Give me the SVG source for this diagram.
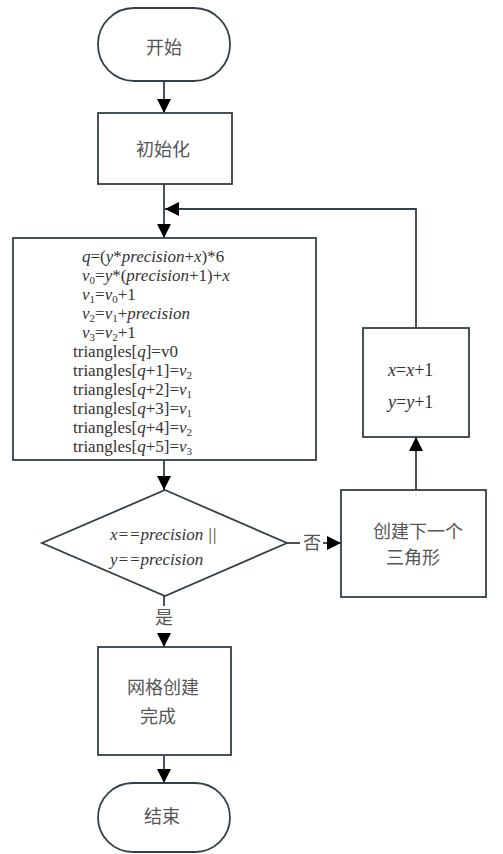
<svg xmlns="http://www.w3.org/2000/svg" width="503" height="854" viewBox="0 0 503 854">
<style>
.s{fill:#fff;stroke:#334046;stroke-width:1.8}
.c{stroke:#334046;stroke-width:1.8;fill:none}
.zh{font-family:'Noto Sans CJK SC','Noto Sans',sans-serif;font-size:18px;fill:#555;text-anchor:middle}
.m{font-family:'Liberation Serif','DejaVu Serif',serif;font-size:17px;fill:#333}
.i{font-style:italic}
.sub{font-size:11px}
</style>
<defs>
<marker id="ah" markerUnits="userSpaceOnUse" markerWidth="16" markerHeight="16" viewBox="0 0 16 16" refX="14" refY="8" orient="auto">
<path d="M0,1 L14,8 L0,15 Z" fill="#000"/>
</marker>
</defs>
<rect width="503" height="854" fill="#fff"/>
<g id="connectors">
<line class="c" x1="164" y1="81" x2="164" y2="113" marker-end="url(#ah)"/>
<line class="c" x1="164" y1="184" x2="164" y2="238" marker-end="url(#ah)"/>
<polyline class="c" points="416,328 416,209 165,209" marker-end="url(#ah)"/>
<line class="c" x1="164" y1="460" x2="164" y2="490" marker-end="url(#ah)"/>
<line class="c" x1="287" y1="543" x2="300" y2="543"/>
<line class="c" x1="323" y1="543" x2="341" y2="543" marker-end="url(#ah)"/>
<line class="c" x1="416" y1="490" x2="416" y2="437" marker-end="url(#ah)"/>
<line class="c" x1="164" y1="596" x2="164" y2="606"/>
<line class="c" x1="164" y1="633" x2="164" y2="647" marker-end="url(#ah)"/>
<line class="c" x1="164" y1="755" x2="164" y2="783" marker-end="url(#ah)"/>
<text class="zh" x="312" y="549">否</text>
<text class="zh" x="164" y="624">是</text>
</g>
<g id="start">
<rect class="s" x="98" y="8" width="132" height="73" rx="36" ry="36"/>
<text class="zh" x="164" y="54">开始</text>
</g>
<g id="init">
<rect class="s" x="98" y="113" width="134" height="71"/>
<text class="zh" x="163" y="156">初始化</text>
</g>
<g id="compute" font-family="'Liberation Serif', 'DejaVu Serif', serif">
<rect class="s" x="13" y="238" width="303" height="222"/>
<text class="m" x="82" y="262"><tspan class="i">q</tspan>=(<tspan class="i">y</tspan>*<tspan class="i">precision</tspan>+<tspan class="i">x</tspan>)*6</text>
<text class="m" x="82" y="281"><tspan class="i">v</tspan><tspan class="sub" dy="3">0</tspan><tspan dy="-3">=</tspan><tspan class="i">y</tspan>*(<tspan class="i">precision</tspan>+1)+<tspan class="i">x</tspan></text>
<text class="m" x="82" y="300"><tspan class="i">v</tspan><tspan class="sub" dy="3">1</tspan><tspan dy="-3">=</tspan><tspan class="i">v</tspan><tspan class="sub" dy="3">0</tspan><tspan dy="-3">+1</tspan></text>
<text class="m" x="82" y="319"><tspan class="i">v</tspan><tspan class="sub" dy="3">2</tspan><tspan dy="-3">=</tspan><tspan class="i">v</tspan><tspan class="sub" dy="3">1</tspan><tspan dy="-3">+</tspan><tspan class="i">precision</tspan></text>
<text class="m" x="82" y="338"><tspan class="i">v</tspan><tspan class="sub" dy="3">3</tspan><tspan dy="-3">=</tspan><tspan class="i">v</tspan><tspan class="sub" dy="3">2</tspan><tspan dy="-3">+1</tspan></text>
<text class="m" x="73" y="357">triangles[<tspan class="i">q</tspan>]=v0</text>
<text class="m" x="73" y="376">triangles[<tspan class="i">q</tspan>+1]=<tspan class="i">v</tspan><tspan class="sub" dy="3">2</tspan></text>
<text class="m" x="73" y="395">triangles[<tspan class="i">q</tspan>+2]=<tspan class="i">v</tspan><tspan class="sub" dy="3">1</tspan></text>
<text class="m" x="73" y="414">triangles[<tspan class="i">q</tspan>+3]=<tspan class="i">v</tspan><tspan class="sub" dy="3">1</tspan></text>
<text class="m" x="73" y="433">triangles[<tspan class="i">q</tspan>+4]=<tspan class="i">v</tspan><tspan class="sub" dy="3">2</tspan></text>
<text class="m" x="73" y="452">triangles[<tspan class="i">q</tspan>+5]=<tspan class="i">v</tspan><tspan class="sub" dy="3">3</tspan></text>
</g>
<g id="decision">
<polygon class="s" points="165,490 287,543 165,596 42,543"/>
<text class="m i" x="110" y="540">x==precision ||</text>
<text class="m i" x="110" y="565">y==precision</text>
</g>
<g id="next">
<rect class="s" x="341" y="490" width="145" height="107"/>
<text class="zh" x="418" y="538">创建下一个</text>
<text class="zh" x="413" y="564">三角形</text>
</g>
<g id="increment">
<rect class="s" x="363" y="328" width="106" height="109"/>
<text class="m" x="388" y="376" style="font-size:18px"><tspan class="i">x</tspan>=<tspan class="i">x</tspan>+1</text>
<text class="m" x="388" y="408" style="font-size:18px"><tspan class="i">y</tspan>=<tspan class="i">y</tspan>+1</text>
</g>
<g id="done">
<rect class="s" x="98" y="647" width="133" height="108"/>
<text class="zh" x="163" y="694">网格创建</text>
<text class="zh" x="158" y="723">完成</text>
</g>
<g id="end">
<rect class="s" x="98" y="783" width="132" height="69" rx="35" ry="35"/>
<text class="zh" x="162" y="823">结束</text>
</g>
</svg>
